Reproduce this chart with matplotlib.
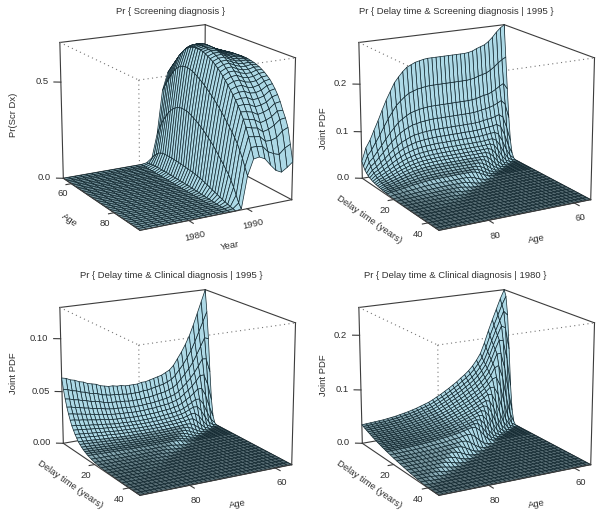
import numpy as np
import matplotlib
matplotlib.use("Agg")
import matplotlib.pyplot as plt
from mpl_toolkits.mplot3d import proj3d

plt.rcParams['font.family'] = ['Liberation Sans', 'DejaVu Sans']

# grid of the surfaces
ages_desc = list(range(91, 55, -1))
ages_asc = list(range(56, 92))
delays = [0,1,2,3,4,5,6,7,8,9,10,11,12,13,14,15,16,18,20,22,24,26,28,30,32,34,36,38,40,42,44,46]
years = list(range(1972, 1999))

# Pr(Scr Dx) x 1000, one row per year from 1987, ages 56..91, earlier years are 0
scr_first_year = 1987
scr_dx = [
    [5,8,10,12,13,14,14,14,14,14,14,14,13,13,13,12,12,12,11,11,10,9,9,8,7,6,5,5,4,3,2,2,1,1,0,0],
    [27,46,59,73,80,84,86,86,86,86,85,84,83,82,80,78,76,75,73,70,67,64,59,55,50,45,39,35,30,25,20,15,11,7,4,0],
    [155,191,223,250,273,296,314,328,339,348,353,355,355,353,349,341,334,326,317,307,296,284,271,258,244,228,211,194,177,159,141,118,91,59,27,5],
    [382,410,437,464,487,510,528,541,551,557,560,560,557,552,546,537,528,519,508,496,484,471,458,443,428,411,394,376,358,339,319,296,268,237,200,164],
    [473,496,519,541,564,587,605,623,637,648,655,660,662,662,661,657,652,644,637,628,617,605,592,577,561,544,526,507,487,464,440,411,378,337,291,241],
    [510,532,555,578,596,614,630,642,652,660,664,667,669,669,668,665,662,655,648,640,630,619,606,592,575,557,537,515,491,466,437,405,369,332,291,246],
    [537,555,573,592,608,622,635,646,655,662,666,669,670,670,669,666,662,657,651,642,632,622,609,594,578,560,539,515,490,461,430,398,364,328,287,232],
    [546,560,573,587,601,612,623,632,640,646,650,652,653,653,652,650,646,642,635,628,619,608,595,581,564,546,525,502,475,446,414,379,341,300,255,196],
    [551,562,573,584,595,605,614,622,629,633,637,639,640,640,639,637,633,629,623,616,608,598,586,573,558,541,521,500,477,450,420,387,348,300,241,164],
    [555,564,573,582,592,599,606,612,618,622,625,628,629,630,629,628,625,622,617,611,603,595,585,573,560,544,528,508,485,460,432,400,364,309,232,150],
    [560,566,573,580,586,592,598,602,607,611,614,617,619,621,622,622,621,619,616,612,606,600,592,582,571,558,543,526,506,482,455,423,387,337,259,168],
    [564,569,573,577,580,582,585,588,592,595,599,602,604,606,608,610,610,609,607,604,601,596,590,582,573,561,549,532,512,489,460,423,391,350,273,191],
]

# joint PDF x 10000, one row per value of delays, ages 91 down to 56, missing cells are 0
scr_1995 = [
    [370,640,790,990,1180,1390,1590,1760,1930,2040,2140,2220,2260,2300,2320,2340,2350,2350,2350,2350,2350,2350,2350,2350,2350,2350,2360,2380,2420,2450,2480,2540,2620,2720,2800,2860],
    [281,486,600,752,897,1056,1208,1338,1467,1550,1626,1687,1718,1748,1763,1778,1786,1786,1786,1786,1786,1786,1786,1786,1786,1786,1794,1809,1839,1862,1885,1930,1991,2067,2128,2174],
    [215,371,458,574,684,806,922,1021,1119,1183,1241,1288,1311,1334,1346,1357,1363,1363,1363,1363,1363,1363,1363,1363,1363,1363,1369,1380,1404,1427,1438,1473,1520,1578,1624,1493],
    [174,301,371,465,555,653,747,827,907,959,1006,1043,1062,1081,1090,1100,1105,1105,1105,1105,1105,1105,1105,1105,1105,1105,1109,1119,1137,1152,1166,1194,1231,1278,1184,874],
    [141,243,300,376,448,528,604,669,733,775,813,844,859,874,882,889,893,893,893,893,893,893,893,893,893,893,897,904,920,931,942,965,996,930,692,380],
    [118,205,253,317,378,445,509,563,618,653,685,710,723,736,742,749,752,752,752,752,752,752,752,752,752,752,755,762,774,784,794,813,754,566,314,119],
    [100,173,213,267,319,375,429,475,521,551,578,599,610,621,626,632,635,635,635,635,635,635,635,635,635,635,637,643,653,662,670,617,460,257,98,23],
    [85,147,182,228,271,320,366,405,444,469,492,511,520,529,534,538,541,541,541,541,541,541,541,541,541,541,543,547,557,564,513,380,211,81,19],
    [74,128,158,198,236,278,318,352,386,408,428,444,452,460,464,468,470,470,470,470,470,470,470,470,470,470,472,476,484,441,322,178,68,16],
    [65,112,138,173,207,243,278,308,338,357,375,389,396,403,406,410,411,411,411,411,411,411,411,411,411,411,413,417,382,279,152,58,14],
    [57,99,122,153,183,215,246,273,299,316,332,344,350,357,360,363,364,364,364,364,364,364,364,364,364,364,366,332,244,133,50,12],
    [50,86,107,134,159,188,215,238,261,275,289,300,305,311,313,316,317,317,317,317,317,317,317,317,317,317,287,209,114,43,10],
    [44,77,95,119,142,167,191,211,232,245,257,266,271,276,278,281,282,282,282,282,282,282,282,282,282,254,184,100,38,9],
    [39,67,83,104,124,146,167,185,203,214,225,233,237,242,244,246,247,247,247,247,247,247,247,247,222,160,87,33,7],
    [33,58,71,89,106,125,143,158,174,184,193,200,203,207,209,211,212,212,212,212,212,212,212,190,138,74,28,6],
    [29,50,62,77,92,108,124,137,151,159,167,173,176,179,181,183,183,183,183,183,183,183,165,119,64,24,6],
    [25,44,54,67,80,95,108,120,131,139,146,151,154,156,158,159,160,160,160,160,160,144,104,56,21,5],
    [19,32,40,50,59,70,80,88,97,102,107,111,113,115,116,117,118,118,118,106,77,41,15,4],
    [13,22,28,35,41,49,56,62,68,71,75,78,79,81,81,82,82,74,53,29,11,2],
    [9,15,19,24,28,33,38,42,46,49,51,53,54,55,56,51,37,20,7,2],
    [6,10,13,16,19,22,25,28,31,33,34,36,36,33,24,13,5,1],
    [4,6,8,10,12,14,16,18,19,20,21,20,15,8,3,1],
    [2,4,5,6,7,8,10,11,12,11,8,5,2],
    [1,2,2,3,4,4,5,5,3,2,1],
]
clin_1995 = [
    [630,620,600,590,570,560,540,530,520,500,490,480,480,470,470,460,460,460,460,470,470,480,490,500,510,530,550,590,650,710,780,860,960,1070,1180,1290],
    [529,521,504,496,479,470,454,445,437,420,412,403,403,395,395,386,386,386,386,395,395,403,412,420,428,445,462,496,546,596,655,722,806,899,991,1084],
    [447,440,426,419,405,398,383,376,369,355,348,341,341,334,334,327,327,327,327,334,334,341,348,355,362,376,391,419,462,504,554,611,682,760,838,824],
    [378,372,360,354,342,336,324,318,312,300,294,288,288,282,282,276,276,276,276,282,282,288,294,300,306,318,330,354,390,426,468,516,576,642,637,503],
    [321,316,306,301,291,286,275,270,265,255,250,245,245,240,240,235,235,235,235,240,240,245,250,255,260,270,281,301,332,362,398,439,490,491,391,230],
    [271,267,258,254,245,241,232,228,224,215,211,206,206,202,202,198,198,198,198,202,202,206,211,215,219,228,237,254,280,305,335,370,372,299,178,72],
    [227,223,216,212,205,202,194,191,187,180,176,173,173,169,169,166,166,166,166,169,169,173,176,180,184,191,198,212,234,256,281,279,225,135,55,14],
    [195,192,186,183,177,174,167,164,161,155,152,149,149,146,146,143,143,143,143,146,146,149,152,155,158,164,171,183,202,220,218,173,104,43,11],
    [164,161,156,153,148,146,140,138,135,130,127,125,125,122,122,120,120,120,120,122,122,125,127,130,133,138,143,153,169,166,132,78,32,8],
    [139,136,132,130,125,123,119,117,114,110,108,106,106,103,103,101,101,101,101,103,103,106,108,110,112,117,121,130,129,101,60,25,6],
    [113,112,108,106,103,101,97,95,94,90,88,86,86,85,85,83,83,83,83,85,85,86,88,90,92,95,99,96,76,45,18,5],
    [98,96,93,91,88,87,84,82,81,78,76,74,74,73,73,71,71,71,71,73,73,74,76,78,79,82,77,59,35,14,4],
    [82,81,78,77,74,73,70,69,68,65,64,62,62,61,61,60,60,60,60,61,61,62,64,65,66,62,47,27,11,3],
    [69,68,66,65,63,62,59,58,57,55,54,53,53,52,52,51,51,51,51,52,52,53,54,55,50,38,21,8,2],
    [59,58,56,55,53,52,50,49,48,47,46,45,45,44,44,43,43,43,43,44,44,45,46,42,31,17,7,2],
    [50,50,48,47,46,45,43,42,42,40,39,38,38,38,38,37,37,37,37,38,38,38,35,26,14,6,1],
    [42,41,40,39,38,37,36,35,34,33,32,32,32,31,31,30,30,30,30,31,31,29,21,12,4,1],
    [30,29,28,28,27,26,25,25,24,24,23,23,23,22,22,22,22,22,22,20,14,8,3,1],
    [21,20,20,19,19,18,18,17,17,17,16,16,16,16,16,15,15,14,10,5,2],
    [15,15,14,14,14,13,13,13,12,12,12,12,12,11,11,10,7,4,1],
    [11,11,10,10,10,10,9,9,9,9,8,8,8,7,5,3,1],
    [8,7,7,7,7,7,6,6,6,6,6,5,4,2],
    [5,5,5,5,5,4,4,4,4,4,3,2,1],
    [4,4,4,4,3,3,3,3,2,1],
    [3,2,2,2,2,2,1],
    [2,2,2,2,1],
    [1,1,1],
]
clin_1980 = [
    [350,355,360,365,370,375,385,395,405,420,435,450,470,490,515,540,565,600,640,680,725,770,820,870,930,985,1050,1130,1230,1350,1540,1760,1960,2150,2340,2500],
    [334,339,344,349,353,358,368,377,387,401,415,430,449,468,492,516,540,573,611,649,692,735,783,831,888,941,1003,1079,1175,1289,1471,1681,1872,2053,2235,2388],
    [319,323,328,332,337,341,350,359,369,382,396,410,428,446,469,491,514,546,582,619,660,701,746,792,846,896,956,1028,1119,1229,1401,1602,1784,1957,2129,2048],
    [305,309,313,318,322,326,335,344,352,365,378,392,409,426,448,470,492,522,557,592,631,670,713,757,809,857,914,983,1070,1175,1340,1531,1705,1871,1832,1414],
    [291,295,299,303,307,311,320,328,336,349,361,374,390,407,427,448,469,498,531,564,602,639,681,722,772,818,872,938,1021,1121,1278,1461,1627,1606,1262,726],
    [277,280,284,288,292,296,304,312,320,332,344,356,371,387,407,427,446,474,506,537,573,608,648,687,735,778,830,893,972,1067,1217,1390,1393,1104,647,257],
    [263,266,270,274,278,281,289,296,304,315,326,338,353,368,386,405,424,450,480,510,544,578,615,653,698,739,788,848,923,1013,1155,1188,956,564,228,56],
    [250,254,257,261,265,268,275,282,290,300,311,322,336,350,368,386,404,429,458,486,518,551,586,622,665,704,751,808,879,965,991,818,490,200,50],
    [238,241,245,248,252,255,262,269,275,286,296,306,320,333,350,367,384,408,435,462,493,524,558,592,632,670,714,768,836,826,681,419,173,44],
    [226,229,232,235,239,242,248,255,261,271,281,290,303,316,332,348,364,387,413,439,468,497,529,561,600,635,677,729,714,566,348,148,38],
    [214,217,220,223,226,229,235,241,247,256,265,275,287,299,314,329,345,366,390,415,442,470,500,531,567,601,641,620,488,288,122,32],
    [203,206,209,212,215,218,223,229,235,244,252,261,273,284,299,313,328,348,371,394,421,447,476,505,539,571,548,426,250,102,27],
    [193,195,198,201,204,206,212,217,223,231,239,248,259,270,283,297,311,330,352,374,399,424,451,479,512,488,375,218,88,22],
    [182,185,187,190,192,195,200,205,211,218,226,234,244,255,268,281,294,312,333,354,377,400,426,452,435,333,191,76,19],
    [172,174,176,179,181,184,189,194,198,206,213,221,230,240,252,265,277,294,314,333,355,377,402,384,296,169,67,17],
    [163,165,167,170,172,174,179,184,188,195,202,209,219,228,239,251,263,279,298,316,337,358,343,263,151,60,15],
    [154,156,158,161,163,165,169,174,178,185,191,198,207,216,227,238,249,264,282,299,319,305,235,134,53,13],
    [137,138,140,142,144,146,150,154,158,164,170,176,183,191,201,211,220,234,250,239,184,105,42,10],
    [119,121,122,124,126,128,131,134,138,143,148,153,160,167,175,184,192,184,141,81,32,8],
    [105,107,108,110,111,113,116,119,122,126,131,135,141,147,155,146,110,63,25,6],
    [91,92,94,95,96,98,100,103,105,109,113,117,122,115,87,49,19,5],
    [77,78,79,80,81,83,85,87,89,92,96,89,67,38,15,3],
    [63,64,65,66,67,68,69,71,73,68,51,28,11,3],
    [49,50,50,51,52,53,54,50,37,21,8,2],
    [39,39,40,40,41,37,27,15,6,1],
    [28,28,29,26,19,11,4,1],
    [19,18,13,7,3,1],
    [7,4,1],
    [1],
]

FACE = np.array([0.68, 0.85, 0.90])
EDGE = '#10262e'
BOX = '#3c3c3c'
TXT = '#303030'
FS = 6.8


def pad_rows(rows, n_rows, n_cols):
    z = np.zeros((n_rows, n_cols))
    for i, r in enumerate(rows):
        z[i, :len(r)] = r
    return z


def cell_colors(z, zmax, flat):
    # flat cells come out darker than the steep ones
    n, m = z.shape
    zn = z / zmax
    dr = np.abs(zn[1:, 1:] + zn[1:, :-1] - zn[:-1, 1:] - zn[:-1, :-1]) / 2 * (n - 1)
    dc = np.abs(zn[1:, 1:] + zn[:-1, 1:] - zn[1:, :-1] - zn[:-1, :-1]) / 2 * (m - 1)
    k = flat + (1 - flat) * np.clip(np.hypot(dr, dc) / 0.5, 0, 1)
    fc = np.ones((n - 1, m - 1, 4))
    fc[..., :3] = k[..., None] * FACE
    return fc


def panel(left, bottom, X, Y, Z, xlim, ylim, zmax, xticks, yticks, zticks, zticklabels,
          xlabel, ylabel, flat, y_rot, y_off):
    ax = fig.add_axes([left / 600, bottom / 520, 0.5, 300 / 520], projection='3d')
    ax.computed_zorder = False
    ax.set_axis_off()
    ax.patch.set_alpha(0)
    ax.set_xlim(*xlim, view_margin=0)
    ax.set_ylim(*ylim, view_margin=0)
    ax.set_zlim(0, zmax, view_margin=0)
    ax.view_init(16.54, -29.35)
    ax.set_proj_type('persp', focal_length=0.812)
    ax.set_box_aspect((1, 1, 0.85), zoom=0.909)
    M = ax.get_proj()

    def pt(fx, fy, fz):
        return (xlim[0] + fx * (xlim[1] - xlim[0]),
                ylim[0] + fy * (ylim[1] - ylim[0]),
                fz * zmax)

    def seg(a, b, **kw):
        p, q = pt(*a), pt(*b)
        ax.plot([p[0], q[0]], [p[1], q[1]], [p[2], q[2]], **kw)

    def label(a, s, **kw):
        # 3D text ignores rotation, so place it through the projection
        x2, y2, _ = proj3d.proj_transform(*pt(*a), M)
        ax.text2D(x2, y2, s, transform=ax.transData, fontsize=FS, color=TXT, va='center', **kw)

    solid = dict(color=BOX, lw=0.8, zorder=1)
    for a, b in [((0, 0, 1), (0, 1, 1)), ((0, 1, 1), (1, 1, 1)), ((0, 0, 1), (0, 0, 0)),
                 ((0, 1, 1), (0, 1, 0)), ((1, 1, 1), (1, 1, 0)), ((0, 0, 0), (0, 1, 0)),
                 ((0, 1, 0), (1, 1, 0))]:
        seg(a, b, **solid)
    dotted = dict(color='#777777', lw=0.8, ls=(0, (1, 3)), zorder=1)
    for a, b in [((0, 0, 1), (1, 0, 1)), ((1, 0, 1), (1, 1, 1)), ((1, 0, 1), (1, 0, 0))]:
        seg(a, b, **dotted)

    ax.plot_surface(X, Y, Z, facecolors=cell_colors(Z, zmax, flat), edgecolor=EDGE,
                    linewidth=0.5, rstride=1, cstride=1, shade=False, zorder=2)

    front = dict(color=BOX, lw=0.8, zorder=3)
    seg((0, 0, 0), (1, 0, 0), **front)
    seg((1, 0, 0), (1, 1, 0), **front)

    # ticks on the left-front edge
    for v in xticks:
        f = (v - xlim[0]) / (xlim[1] - xlim[0])
        seg((f, 0, 0), (f, -0.035, 0), **front)
        label((f, -0.06, -0.065), str(v), ha='center')
    label((0.5, -0.19, -0.08), xlabel, ha='center', rotation=-35, rotation_mode='anchor')
    # ticks on the front-right edge
    for v in yticks:
        f = (v - ylim[0]) / (ylim[1] - ylim[0])
        seg((1, f, 0), (1.05, f, 0), **front)
        label((1.07, f, -0.08), str(v), ha='center', rotation=y_rot, rotation_mode='anchor')
    label((1 + y_off[0], 0.5, y_off[1]), ylabel, ha='center', rotation=10, rotation_mode='anchor')
    # ticks on the vertical edge
    for v, s in zip(zticks, zticklabels):
        f = v / zmax
        seg((0, 0, f), (-0.023, -0.035, f), **solid)
        label((-0.042, -0.063, f), s, ha='right')
    return ax


fig = plt.figure(figsize=(6, 5.2), dpi=100)

# screening probability over age and year
yr_age = np.meshgrid(ages_asc, years)
scr_z = np.zeros((len(years), len(ages_asc)))
scr_z[years.index(scr_first_year):] = np.array(scr_dx)
panel(20.8, 245.5, yr_age[0], yr_age[1], scr_z / 1000, (56, 91), (1972, 1998), 0.70,
      [60, 80], [1980, 1990], [0, 0.5], ['0.0', '0.5'], 'Age', 'Year', 0.72, 13, (0.13, -0.17))

d_age = np.meshgrid(delays, ages_desc, indexing='ij')
n_d, n_a = len(delays), len(ages_desc)
off = (0.21, -0.09)
panel(319.8, 245.5, d_age[0], d_age[1], pad_rows(scr_1995, n_d, n_a) / 10000, (0, 46), (91, 56),
      0.286, [20, 40], [80, 60], [0, 0.1, 0.2], ['0.0', '0.1', '0.2'],
      'Delay time (years)', 'Age', 0.5, 8, off)
panel(20.8, -19.5, d_age[0], d_age[1], pad_rows(clin_1995, n_d, n_a) / 10000, (0, 46), (91, 56),
      0.129, [20, 40], [80, 60], [0, 0.05, 0.10], ['0.00', '0.05', '0.10'],
      'Delay time (years)', 'Age', 0.5, 0, off)
panel(319.8, -19.5, d_age[0], d_age[1], pad_rows(clin_1980, n_d, n_a) / 10000, (0, 46), (91, 56),
      0.25, [20, 40], [80, 60], [0, 0.1, 0.2], ['0.0', '0.1', '0.2'],
      'Delay time (years)', 'Age', 0.5, 0, off)

titles = ['Pr { Screening diagnosis }', 'Pr { Delay time & Screening diagnosis | 1995 }',
          'Pr { Delay time & Clinical diagnosis | 1995 }', 'Pr { Delay time & Clinical diagnosis | 1980 }']
title_pos = [(171, 11), (456, 12), (171, 275), (455, 275)]
zlabels = ['Pr(Scr Dx)', 'Joint PDF', 'Joint PDF', 'Joint PDF']
zlabel_pos = [(14, 115), (323, 128), (14, 373), (323, 375)]
for s, (x, y) in zip(titles, title_pos):
    fig.text(x / 600, 1 - y / 520, s, ha='center', va='center', fontsize=FS, color=TXT)
for s, (x, y) in zip(zlabels, zlabel_pos):
    fig.text(x / 600, 1 - y / 520, s, ha='center', va='center', fontsize=FS, color=TXT, rotation=90)

fig.savefig('out.png', dpi=100)
